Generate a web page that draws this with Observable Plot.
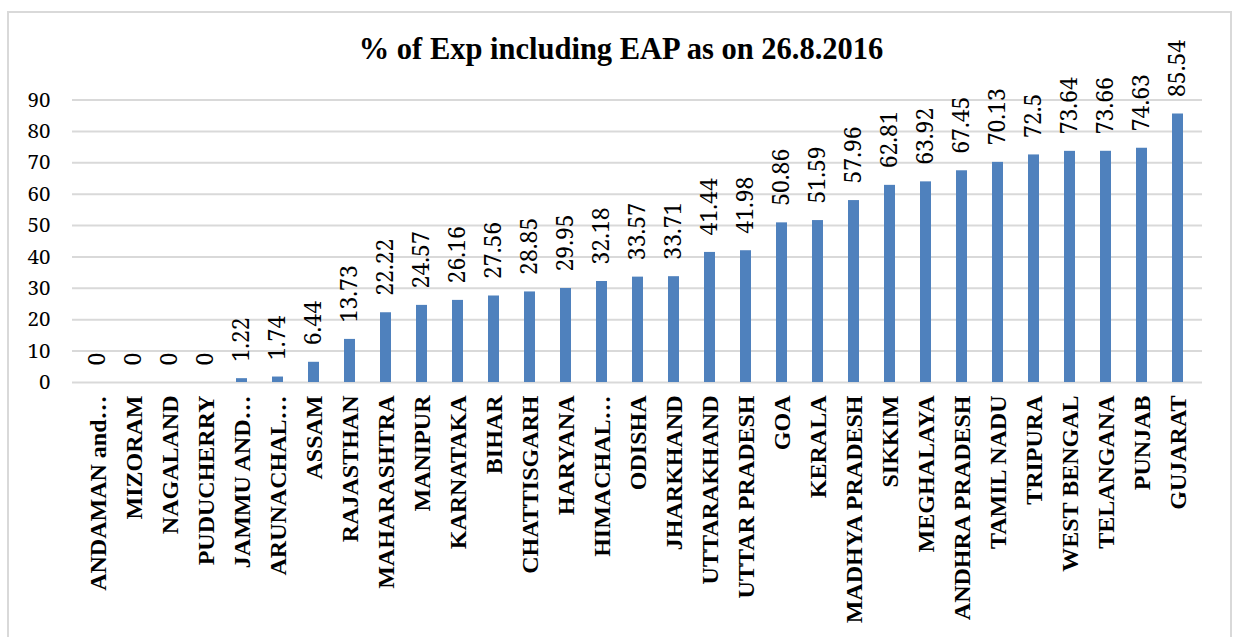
<!DOCTYPE html>
<html>
<head>
<meta charset="utf-8">
<script src="https://cdn.jsdelivr.net/npm/d3@7"></script>
<script src="https://cdn.jsdelivr.net/npm/@observablehq/plot@0.6"></script>
<style>
  html, body { margin: 0; padding: 0; background: #fff; width: 1238px; height: 637px; overflow: hidden; }
  #frame { position: absolute; left: 7px; top: 11px; width: 1225px; height: 700px; border: 2px solid #d9d9d9; box-sizing: border-box; }
  #title { position: absolute; left: 0; top: 31px; width: 1242px; text-align: center; font-family: "Liberation Serif", "Times New Roman", serif; font-weight: bold; font-size: 30.5px; line-height: 36px; color: #000; }
  #chart { position: absolute; left: 0; top: 0; }
</style>
</head>
<body>
<div id="frame"></div>
<div id="title">% of Exp including EAP as on 26.8.2016</div>
<div id="chart"></div>
<script>
const states = ["ANDAMAN and…", "MIZORAM", "NAGALAND", "PUDUCHERRY", "JAMMU AND…", "ARUNACHAL…", "ASSAM", "RAJASTHAN", "MAHARASHTRA", "MANIPUR", "KARNATAKA", "BIHAR", "CHATTISGARH", "HARYANA", "HIMACHAL…", "ODISHA", "JHARKHAND", "UTTARAKHAND", "UTTAR PRADESH", "GOA", "KERALA", "MADHYA PRADESH", "SIKKIM", "MEGHALAYA", "ANDHRA PRADESH", "TAMIL NADU", "TRIPURA", "WEST BENGAL", "TELANGANA", "PUNJAB", "GUJARAT"];
const values = [0, 0, 0, 0, 1.22, 1.74, 6.44, 13.73, 22.22, 24.57, 26.16, 27.56, 28.85, 29.95, 32.18, 33.57, 33.71, 41.44, 41.98, 50.86, 51.59, 57.96, 62.81, 63.92, 67.45, 70.13, 72.5, 73.64, 73.66, 74.63, 85.54];
const yTicks = [0, 10, 20, 30, 40, 50, 60, 70, 80, 90];

const data = states.map((s, i) => ({state: s, value: values[i]}));
const numFont = '"Noto Serif", "Liberation Serif", serif';

const chart = Plot.plot({
  width: 1238,
  height: 637,
  marginTop: 99.5,
  marginBottom: 255,
  marginLeft: 72,
  marginRight: 36,
  style: {background: "transparent", overflow: "visible"},
  x: {domain: states, paddingInner: 0.7, paddingOuter: 0.35},
  y: {domain: [0, 90], ticks: yTicks},
  marks: [
    Plot.gridY(yTicks, {stroke: "#d9d9d9", strokeOpacity: 1, strokeWidth: 2}),
    Plot.axisY(yTicks, {tickSize: 0, tickPadding: 22, fontSize: 20.5, fontFamily: numFont, fill: "#000", label: null}),
    Plot.barY(data, {x: "state", y: "value", fill: "#4f81bd"}),
    Plot.text(data, {x: "state", y: "value", text: d => String(d.value), rotate: -90, textAnchor: "start", lineAnchor: "middle", dy: -17, fontSize: 23, fontFamily: numFont, fill: "#000"}),
    Plot.axisX({tickSize: 0, tickPadding: 13, tickRotate: -90, fontSize: 24, fontWeight: "bold", fontFamily: '"Liberation Serif", "Times New Roman", serif', fill: "#000", label: null})
  ]
});
document.getElementById("chart").appendChild(chart);
</script>
</body>
</html>
